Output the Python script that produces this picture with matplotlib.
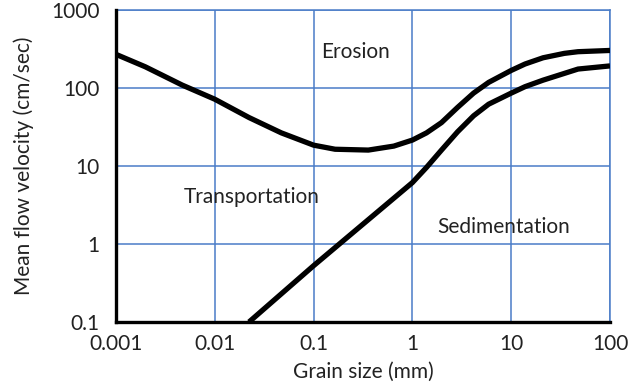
import matplotlib
matplotlib.use("Agg")
import matplotlib.pyplot as plt

plt.rcParams['font.family'] = ['Lato', 'DejaVu Sans']

# Grain size (mm) and critical flow velocity (cm/s)
erosion_size = [0.001, 0.00198, 0.00468, 0.01, 0.0222, 0.0471, 0.1, 0.165,
                0.358, 0.649, 1.0, 1.39, 1.97, 2.87, 4.16, 5.91, 10.0, 13.8,
                21.0, 34.5, 47.5, 100.0]
erosion_velocity = [270, 187, 109, 71.8, 41.8, 26.6, 18.5, 16.4,
                    16.0, 18.0, 21.5, 26.6, 36, 56.5, 86, 118, 168, 203,
                    244, 278, 292, 303]

settling_size = [0.0222, 0.1, 1.0, 1.39, 1.97, 2.87, 4.16, 5.91, 10.0, 13.8,
                 21.0, 47.5, 100.0]
settling_velocity = [0.1, 0.527, 6.13, 9.6, 16.0, 27.5, 44, 62, 86, 104,
                     126, 175, 192]

x_ticks = [0.001, 0.01, 0.1, 1, 10, 100]
x_tick_labels = ["0.001", "0.01", "0.1", "1", "10", "100"]
y_ticks = [0.1, 1, 10, 100, 1000]
y_tick_labels = ["0.1", "1", "10", "100", "1000"]

grid_blue = "#4a7cc7"
text_color = "#222222"
fs = 15

fig = plt.figure(figsize=(6.33, 3.89), dpi=100)
ax = fig.add_axes([116 / 633, 1 - 322 / 389, 494 / 633, 312 / 389])

ax.set_xscale("log")
ax.set_yscale("log")
ax.set_xlim(0.001, 100)
ax.set_ylim(0.1, 1000)

ax.set_xticks(x_ticks)
ax.set_xticklabels(x_tick_labels)
ax.set_yticks(y_ticks)
ax.set_yticklabels(y_tick_labels)
ax.minorticks_off()
ax.tick_params(length=0, labelsize=fs, colors=text_color)
ax.tick_params(axis="x", pad=9)
ax.tick_params(axis="y", pad=12)

ax.grid(True, color=grid_blue, linewidth=1.1)
ax.set_axisbelow(True)

for side in ("top", "right"):
    ax.spines[side].set_color(grid_blue)
    ax.spines[side].set_linewidth(1.1)
for side in ("left", "bottom"):
    ax.spines[side].set_color("black")
    ax.spines[side].set_linewidth(2.4)
    ax.spines[side].set_zorder(5)

ax.plot(erosion_size, erosion_velocity, color="black", linewidth=3.8,
        solid_joinstyle="round", solid_capstyle="butt", zorder=4)
ax.plot(settling_size, settling_velocity, color="black", linewidth=3.8,
        solid_joinstyle="round", solid_capstyle="butt", zorder=4)

ax.text(0.484, 0.865, "Erosion", transform=ax.transAxes, ha="center",
        va="center", fontsize=fs, color=text_color)
ax.text(0.275, 0.40, "Transportation", transform=ax.transAxes, ha="center",
        va="center", fontsize=fs, color=text_color)
ax.text(0.785, 0.304, "Sedimentation", transform=ax.transAxes, ha="center",
        va="center", fontsize=fs, color=text_color)

ax.set_xlabel("Grain size (mm)", fontsize=fs, color=text_color, labelpad=5)
ax.set_ylabel("Mean flow velocity (cm/sec)", fontsize=fs, color=text_color,
              labelpad=12)

fig.savefig("out.png", dpi=100)
